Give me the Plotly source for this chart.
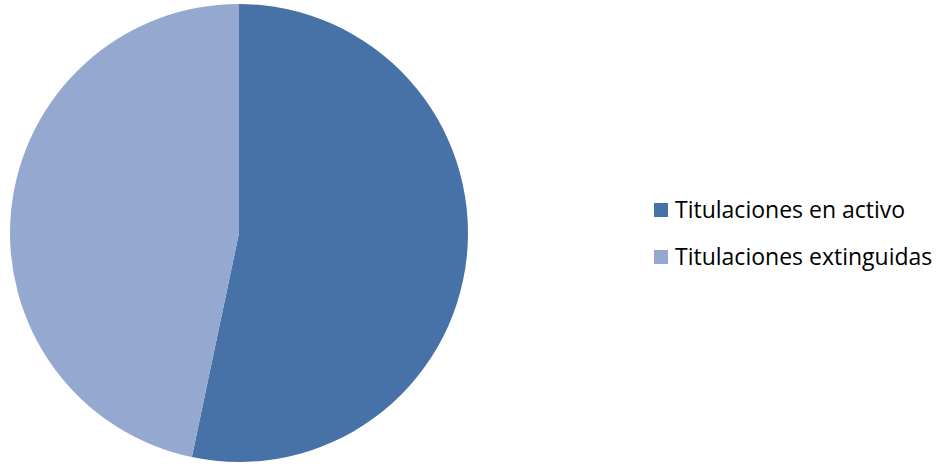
import plotly.graph_objects as go

labels = ["Titulaciones en activo", "Titulaciones extinguidas"]
values = [53.3, 46.7]
colors = ["#4672A8", "#94A8D0"]

W, H = 943, 464

fig = go.Figure()
fig.add_trace(go.Pie(
    labels=labels,
    values=values,
    sort=False,
    direction="clockwise",
    rotation=0,
    marker=dict(colors=colors, line=dict(width=0)),
    textinfo="none",
    hoverinfo="label+percent",
    showlegend=False,
    domain=dict(x=[10 / W, 468 / W], y=[(231 - 229) / H, (231 + 229) / H]),
))

# legend drawn manually to match spacing
legend_y = [210, 257]
shapes = []
annotations = []
for lab, col, py in zip(labels, colors, legend_y):
    shapes.append(dict(type="rect", xref="paper", yref="paper",
                       x0=654 / W, x1=668 / W,
                       y0=1 - (py + 7) / H, y1=1 - (py - 7) / H,
                       fillcolor=col, line=dict(width=0)))
    annotations.append(dict(text=lab, xref="paper", yref="paper",
                            x=673 / W, y=1 - (py - 1.5) / H, xanchor="left", yanchor="middle",
                            showarrow=False,
                            font=dict(family="Open Sans, sans-serif", size=23, color="#000000")))

fig.update_layout(
    width=W, height=H,
    margin=dict(l=0, r=0, t=0, b=0),
    paper_bgcolor="white",
    plot_bgcolor="white",
    shapes=shapes,
    annotations=annotations,
)

fig.write_html("out.html", config={"displayModeBar": False},
               post_script="document.body.style.margin='0';")
